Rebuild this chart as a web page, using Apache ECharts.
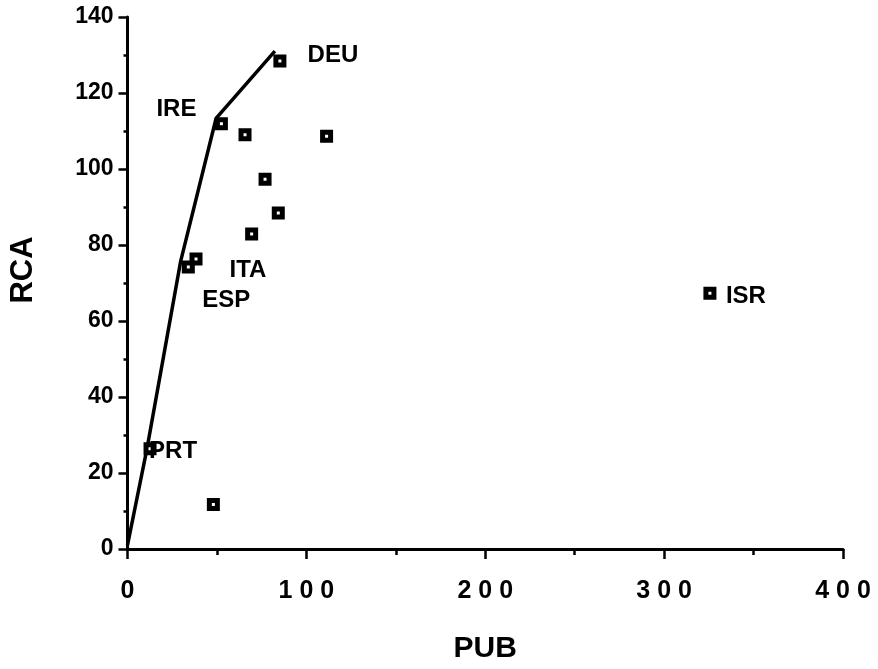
<!DOCTYPE html>
<html>
<head>
<meta charset="utf-8">
<script src="https://cdn.jsdelivr.net/npm/echarts@6/dist/echarts.min.js"></script>
<style>
  html, body { margin: 0; padding: 0; background: #fff; }
  #chart { width: 878px; height: 669px; }
</style>
</head>
<body>
<div id="chart"></div>
<script>
// Countries: publications (PUB) against revealed comparative advantage (RCA)
const countries = ['DEU', 'IRE', '', '', '', '', '', 'ITA', 'ESP', 'PRT', '', 'ISR'];
const pub = [85.2, 52.5, 65.7, 111.3, 76.9, 84.3, 69.4, 38.3, 34.0, 12.6, 48.0, 325.6];
const rca = [128.4, 111.9, 109.0, 108.6, 97.3, 88.4, 82.9, 76.3, 74.2, 26.4, 11.7, 67.3];

// Frontier line through the leading countries
const frontierPub = [0, 10.9, 29.7, 49.5, 82.4];
const frontierRca = [1, 26.4, 75.7, 113.3, 131.0];

// Axis tick values
const xTicks = [0, 100, 200, 300, 400];
const yTicks = [0, 20, 40, 60, 80, 100, 120, 140];

// Where each country name sits relative to its marker
const labelOffsets = {
  DEU: [53, -6], IRE: [-45, -14], ITA: [52, 11],
  ESP: [38, 33], PRT: [23, 3], ISR: [36, 3]
};

const FONT = '"Liberation Sans", Arial, Helvetica, sans-serif';

const scatterData = pub.map((x, i) => {
  const name = countries[i];
  const item = { value: [x, rca[i]], name: name };
  if (name) {
    item.label = {
      show: true,
      position: 'inside',
      offset: labelOffsets[name],
      formatter: name,
      color: '#000',
      fontFamily: FONT,
      fontWeight: 'bold',
      fontSize: 24
    };
  }
  return item;
});

const chart = echarts.init(document.getElementById('chart'), null, { renderer: 'canvas' });

chart.setOption({
  animation: false,
  backgroundColor: '#fff',
  grid: { left: 127.5, right: 35, top: 17, bottom: 112, containLabel: false },
  xAxis: {
    type: 'value',
    min: xTicks[0],
    max: xTicks[xTicks.length - 1],
    interval: xTicks[1] - xTicks[0],
    name: 'PUB',
    nameLocation: 'middle',
    nameGap: 85,
    nameTextStyle: { color: '#000', fontFamily: FONT, fontWeight: 'bold', fontSize: 30, verticalAlign: 'top' },
    axisLine: { show: true, lineStyle: { color: '#000', width: 3 } },
    axisTick: { show: true, inside: false, length: 10, lineStyle: { color: '#000', width: 2.5 } },
    minorTick: { show: true, splitNumber: 2, length: 6, lineStyle: { color: '#000', width: 2.5 } },
    splitLine: { show: false },
    minorSplitLine: { show: false },
    axisLabel: {
      margin: 30,
      color: '#000',
      fontFamily: FONT,
      fontWeight: 'bold',
      fontSize: 25,
      formatter: v => String(v).split('').join(' ')
    }
  },
  yAxis: {
    type: 'value',
    min: yTicks[0],
    max: yTicks[yTicks.length - 1],
    interval: yTicks[1] - yTicks[0],
    axisLine: { show: true, onZero: false, lineStyle: { color: '#000', width: 3 } },
    axisTick: { show: true, inside: false, length: 9, lineStyle: { color: '#000', width: 2.5 } },
    minorTick: { show: true, splitNumber: 2, length: 4, lineStyle: { color: '#000', width: 2.5 } },
    splitLine: { show: false },
    minorSplitLine: { show: false },
    axisLabel: {
      margin: 14,
      color: '#000',
      fontFamily: FONT,
      fontWeight: 'bold',
      fontSize: 23
    }
  },
  graphic: [{
    type: 'text',
    x: 23,
    y: 270,
    rotation: Math.PI / 2,
    style: {
      text: 'RCA',
      fill: '#000',
      font: 'bold 31px ' + FONT,
      align: 'center',
      verticalAlign: 'middle'
    }
  }],
  series: [
    {
      type: 'line',
      data: frontierPub.map((x, i) => [x, frontierRca[i]]),
      showSymbol: false,
      symbol: 'none',
      lineStyle: { color: '#000', width: 3.5 },
      z: 2
    },
    {
      type: 'scatter',
      data: scatterData,
      symbol: 'rect',
      symbolSize: 8,
      itemStyle: { color: '#fff', borderColor: '#000', borderWidth: 5, opacity: 1 },
      z: 3
    }
  ]
});
</script>
</body>
</html>
